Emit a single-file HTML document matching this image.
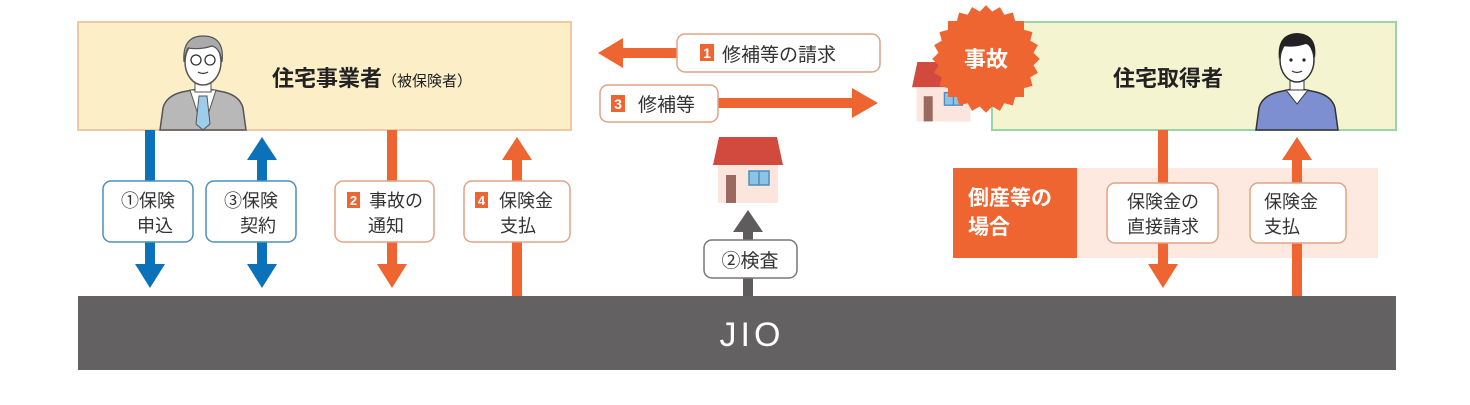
<!DOCTYPE html>
<html><head><meta charset="utf-8"><style>
html,body{margin:0;padding:0;background:#fff;}
svg{display:block;}
text{font-family:"Liberation Sans","Noto Sans CJK JP",sans-serif;}
</style></head><body>
<svg width="1470" height="405" viewBox="0 0 1470 405" xmlns="http://www.w3.org/2000/svg">
<defs>
<g id="house">
  <path d="M6 0 H64 L70 28 H0 Z" fill="#d24a3e"/>
  <rect x="5" y="28" width="60" height="38" fill="#fbe5dc"/>
  <rect x="13" y="38" width="10" height="28" fill="#9a6a5e"/>
  <rect x="36" y="34" width="20" height="14" fill="#8ec3e6" stroke="#4a8fbf" stroke-width="1.5"/>
  <line x1="46" y1="34" x2="46" y2="48" stroke="#4a8fbf" stroke-width="1.5"/>
</g>
</defs>

<rect x="78" y="22" width="493" height="108" fill="#fcefc8" stroke="#f2c7a4" stroke-width="2"/>
<g>
  <path d="M160 130 L163 108 Q166 96 182 92 L203 88 L224 92 Q240 96 243 108 L246 130 Z" fill="#b8b8b8" stroke="#555" stroke-width="1.5"/>
  <path d="M190 90 L203 130 L216 90 Z" fill="#fff" stroke="#555" stroke-width="1"/>
  <path d="M199 96 L207 96 L210 124 L203 130 L196 124 Z" fill="#9dcdea" stroke="#555" stroke-width="1"/>
  <rect x="195" y="76" width="16" height="16" fill="#fff" stroke="#555" stroke-width="1"/>
  <ellipse cx="203" cy="62" rx="18" ry="23" fill="#fff" stroke="#555" stroke-width="1.5"/>
  <path d="M184 62 Q182 36 203 36 Q225 36 222 62 Q220 48 212 46 Q200 50 188 48 Q185 54 184 62 Z" fill="#aaa" stroke="#555" stroke-width="1.2"/>
  <circle cx="196" cy="60" r="5" fill="none" stroke="#333" stroke-width="1.3"/>
  <circle cx="210" cy="60" r="5" fill="none" stroke="#333" stroke-width="1.3"/>
  <path d="M198 72 Q203 75 208 72" fill="none" stroke="#333" stroke-width="1.2"/>
</g>
<text x="272" y="86" font-size="22" fill="#222" font-weight="bold">住宅事業者<tspan font-size="15" font-weight="normal">（被保険者）</tspan></text>

<g fill="#0b72b9">
  <rect x="145" y="130" width="10" height="135"/>
  <path d="M135 264 H165 L150 288 Z"/>
  <rect x="257" y="158" width="10" height="108"/>
  <path d="M247 160 H277 L262 137 Z"/>
  <path d="M247 264 H277 L262 288 Z"/>
</g>
<g fill="#ee6532">
  <rect x="387" y="130" width="10" height="136"/>
  <path d="M377 264 H407 L392 288 Z"/>
  <rect x="512" y="158" width="10" height="138"/>
  <path d="M502 160 H532 L517 137 Z"/>
</g>
<g font-size="18" fill="#333" text-anchor="middle">
  <rect x="103" y="181" width="90" height="61" rx="8" fill="#fff" stroke="#4b8fc2" stroke-width="1.5"/>
  <text x="148" y="207">①保険</text><text x="155" y="232">申込</text>
  <rect x="206" y="181" width="90" height="61" rx="8" fill="#fff" stroke="#4b8fc2" stroke-width="1.5"/>
  <text x="251" y="207">③保険</text><text x="258" y="232">契約</text>
  <rect x="335" y="181" width="99" height="61" rx="8" fill="#fff" stroke="#e3a285" stroke-width="1.5"/>
  <rect x="347" y="192" width="13" height="16" fill="#ee6532"/>
  <text x="353.5" y="205" font-size="13" fill="#fff" font-weight="bold">2</text>
  <text x="396" y="207">事故の</text><text x="386" y="232">通知</text>
  <rect x="464" y="181" width="106" height="61" rx="8" fill="#fff" stroke="#e3a285" stroke-width="1.5"/>
  <rect x="475" y="192" width="13" height="16" fill="#ee6532"/>
  <text x="481.5" y="205" font-size="13" fill="#fff" font-weight="bold">4</text>
  <text x="526" y="207">保険金</text><text x="518" y="232">支払</text>
</g>

<g fill="#ee6532">
  <rect x="620" y="48" width="60" height="10"/>
  <path d="M623 38 V68 L598 53 Z"/>
  <rect x="718" y="98" width="135" height="10"/>
  <path d="M852 88 V118 L878 103 Z"/>
</g>
<rect x="677" y="34" width="203" height="38" rx="8" fill="#fff" stroke="#e3a285" stroke-width="1.5"/>
<rect x="700" y="44" width="14" height="17" fill="#ee6532"/>
<text x="707" y="58" font-size="14" fill="#fff" font-weight="bold" text-anchor="middle">1</text>
<text x="722" y="61" font-size="19" fill="#333">修補等の請求</text>
<rect x="600" y="85" width="118" height="37" rx="8" fill="#fff" stroke="#e3a285" stroke-width="1.5"/>
<rect x="611" y="95" width="14" height="17" fill="#ee6532"/>
<text x="618" y="109" font-size="14" fill="#fff" font-weight="bold" text-anchor="middle">3</text>
<text x="638" y="111" font-size="19" fill="#333">修補等</text>

<use href="#house" x="713" y="137"/>
<g fill="#5f5c5e">
  <rect x="743" y="230" width="10" height="66"/>
  <path d="M733 232 H763 L748 210 Z"/>
</g>
<rect x="704" y="240" width="93" height="38" rx="8" fill="#fff" stroke="#777" stroke-width="1.5"/>
<text x="750" y="267" font-size="19" fill="#333" text-anchor="middle">②検査</text>

<g transform="translate(912,62) scale(0.9)"><use href="#house"/></g>

<rect x="992" y="22" width="404" height="108" fill="#f4f5d0" stroke="#9dd3a9" stroke-width="2"/>
<text x="1168" y="86" font-size="22" fill="#222" text-anchor="middle" font-weight="bold">住宅取得者</text>
<g>
  <path d="M1256 130 L1259 108 Q1262 96 1278 92 L1297 88 L1316 92 Q1332 96 1335 108 L1338 130 Z" fill="#7d8fd0" stroke="#333" stroke-width="1.5"/>
  <path d="M1286 90 L1297 104 L1308 90 Z" fill="#fff" stroke="#333" stroke-width="1"/>
  <rect x="1290" y="76" width="14" height="14" fill="#fff" stroke="#333" stroke-width="1"/>
  <ellipse cx="1297" cy="60" rx="17" ry="22" fill="#fff" stroke="#333" stroke-width="1.5"/>
  <path d="M1279 60 Q1276 34 1297 33 Q1318 34 1315 58 Q1312 46 1306 44 Q1294 48 1283 46 Q1280 52 1279 60 Z" fill="#222"/>
  <circle cx="1291" cy="60" r="1.6" fill="#222"/><circle cx="1304" cy="60" r="1.6" fill="#222"/>
  <path d="M1292 71 Q1297 74 1302 71" fill="none" stroke="#333" stroke-width="1.2"/>
</g>

<g fill="#ee6532" transform="translate(986,59)">
  <rect x="-38" y="-38" width="76" height="76"/>
  <rect x="-38" y="-38" width="76" height="76" transform="rotate(15)"/>
  <rect x="-38" y="-38" width="76" height="76" transform="rotate(30)"/>
  <rect x="-38" y="-38" width="76" height="76" transform="rotate(45)"/>
  <rect x="-38" y="-38" width="76" height="76" transform="rotate(60)"/>
  <rect x="-38" y="-38" width="76" height="76" transform="rotate(75)"/>
</g>
<text x="986" y="67" font-size="22" fill="#fff" text-anchor="middle" font-weight="bold">事故</text>

<rect x="953" y="168" width="425" height="90" fill="#fde9df"/>
<rect x="953" y="168" width="124" height="90" fill="#ee6532"/>
<text x="968" y="205" font-size="21" fill="#fff" font-weight="bold">倒産等の</text>
<text x="968" y="234" font-size="21" fill="#fff" font-weight="bold">場合</text>

<g fill="#ee6532">
  <rect x="1158" y="130" width="10" height="136"/>
  <path d="M1148 264 H1178 L1163 288 Z"/>
  <rect x="1292" y="158" width="10" height="138"/>
  <path d="M1282 160 H1312 L1297 137 Z"/>
</g>
<g font-size="18" fill="#333" text-anchor="middle">
  <rect x="1107" y="183" width="111" height="60" rx="8" fill="#fff" stroke="#e3a285" stroke-width="1.5"/>
  <text x="1163" y="208">保険金の</text><text x="1163" y="233">直接請求</text>
  <rect x="1250" y="183" width="96" height="60" rx="8" fill="#fff" stroke="#e3a285" stroke-width="1.5"/>
  <text x="1291" y="208">保険金</text><text x="1282" y="233">支払</text>
</g>

<rect x="78" y="296" width="1318" height="74" fill="#646163"/>
<text x="752" y="346" font-size="34" fill="#fff" text-anchor="middle" letter-spacing="4">JIO</text>
</svg>
</body></html>
